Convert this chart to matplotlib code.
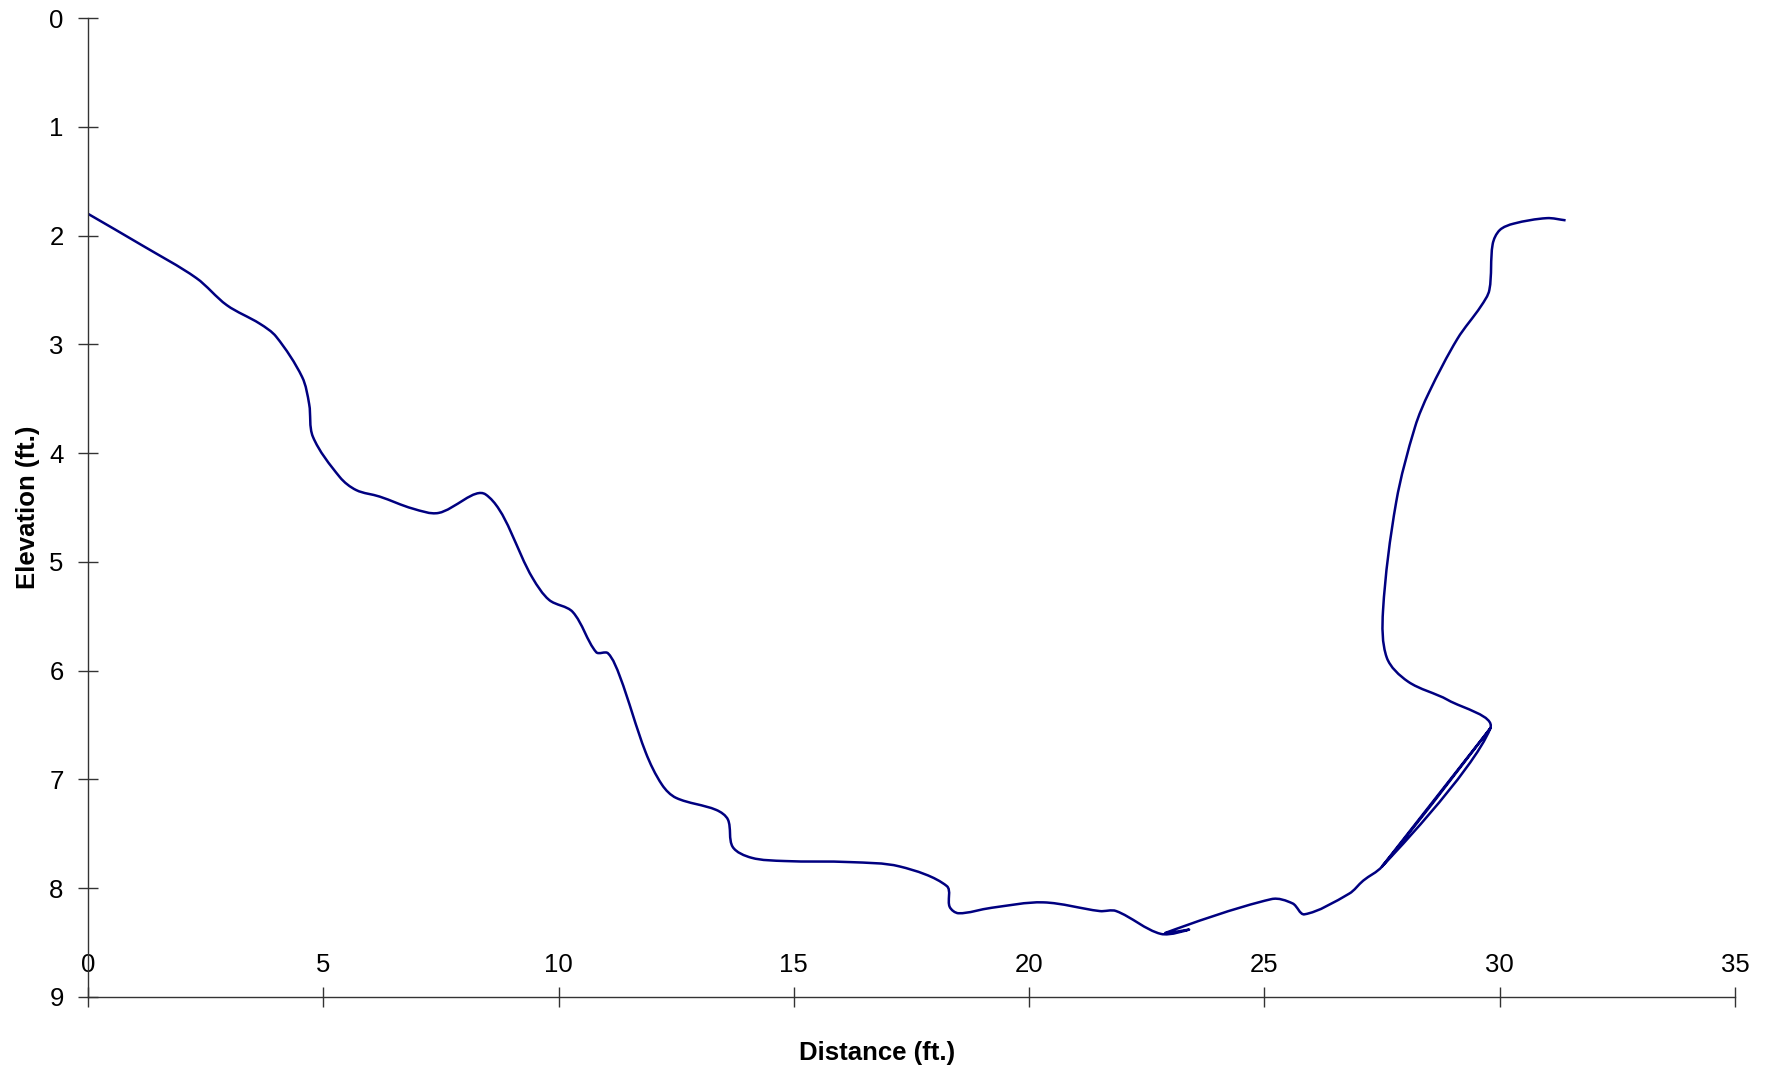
import numpy as np
import matplotlib
matplotlib.use('Agg')
import matplotlib.pyplot as plt
from matplotlib.path import Path
from matplotlib.patches import PathPatch

# Cross-section survey (distance along section, depth below reference), ft
distance = [0.0, 1.15, 2.3, 2.95, 3.65, 4.0, 4.55, 4.7, 4.78, 5.35, 5.7, 6.2, 6.9, 7.45,
            8.45, 9.45, 9.8, 10.3, 10.8, 11.05, 11.3, 11.85, 12.2, 12.5, 13.35,
            13.6, 13.7, 14.1, 14.8, 16.2, 17.25, 18.25, 18.31, 18.5, 19.2, 20.3, 21.5,
            21.85, 22.8, 23.4, 22.9, 25.15, 25.6, 25.85, 26.8, 27.1, 27.5, 29.8, 27.5,
            29.8, 28.9, 28.05, 27.6, 27.52, 27.8, 28.2, 28.5, 29.1, 29.6, 29.78,
            29.85, 30.0, 30.3, 31.0, 31.4]
elevation = [1.80, 2.09, 2.39, 2.64, 2.81, 2.93, 3.30, 3.55, 3.85, 4.22, 4.34, 4.40, 4.51, 4.55,
             4.38, 5.15, 5.35, 5.46, 5.83, 5.84, 6.05, 6.75, 7.05, 7.17, 7.28,
             7.37, 7.62, 7.72, 7.75, 7.76, 7.80, 7.98, 8.17, 8.23, 8.18, 8.13, 8.21,
             8.21, 8.42, 8.38, 8.41, 8.10, 8.14, 8.24, 8.05, 7.93, 7.80, 6.53, 7.80,
             6.53, 6.27, 6.10, 5.88, 5.45, 4.45, 3.76, 3.44, 2.95, 2.65, 2.50,
             2.08, 1.95, 1.89, 1.84, 1.86]

x_ticks = [0, 5, 10, 15, 20, 25, 30, 35]
y_ticks = [0, 1, 2, 3, 4, 5, 6, 7, 8, 9]

plt.rcParams['font.family'] = ['Liberation Sans', 'DejaVu Sans']

W, H = 1775, 1071
fig = plt.figure(figsize=(W / 100, H / 100), dpi=100)
ax = fig.add_axes([88 / W, 1 - 997 / H, (1735 - 88) / W, (997 - 18) / H])
ax.set_xlim(0, 35)
ax.set_ylim(9, 0)

# smoothed line: Bezier through the survey points, tangents scaled by the
# on-screen segment lengths (as a spreadsheet "smoothed line" does)
pts = np.column_stack([distance, elevation]).astype(float)
pix = ax.transData.transform(pts)
n = len(pts)
seg = np.hypot(*np.diff(pix, axis=0).T)
tang = np.zeros_like(pts)
for i in range(n):
    a = max(i - 1, 0)
    b = min(i + 1, n - 1)
    dl = seg[i - 1] if i > 0 else 0.0
    dr = seg[i] if i < n - 1 else 0.0
    tot = dl + dr
    tang[i] = (pts[b] - pts[a]) / tot if tot > 0 else 0.0
verts = [pts[0]]
codes = [Path.MOVETO]
for i in range(n - 1):
    d = seg[i]
    c1 = pts[i] + tang[i] * d / 3.0
    c2 = pts[i + 1] - tang[i + 1] * d / 3.0
    verts += [c1, c2, pts[i + 1]]
    codes += [Path.CURVE4] * 3
patch = PathPatch(Path(np.array(verts), codes), fill=False, edgecolor='#000080',
                  linewidth=1.8, transform=ax.transData, capstyle='butt',
                  joinstyle='round')
ax.add_patch(patch)

for s in ['top', 'right']:
    ax.spines[s].set_visible(False)
for s in ['left', 'bottom']:
    ax.spines[s].set_color('#333333')
    ax.spines[s].set_linewidth(1.0)

ax.set_xticks(x_ticks)
ax.set_yticks(y_ticks)
ax.tick_params(direction='inout', length=15, width=1, color='#333333',
               labelsize=18.5, labelcolor='black')
ax.tick_params(axis='x', pad=-39)
ax.tick_params(axis='y', pad=10)

fig.text(877 / W, 1 - 1053 / H, 'Distance (ft.)', ha='center', va='center',
         fontsize=18.5, fontweight='bold')
fig.text(28 / W, 1 - 507 / H, 'Elevation (ft.)', ha='center', va='center',
         rotation=90, fontsize=18.5, fontweight='bold')

fig.savefig('out.png', dpi=100)
